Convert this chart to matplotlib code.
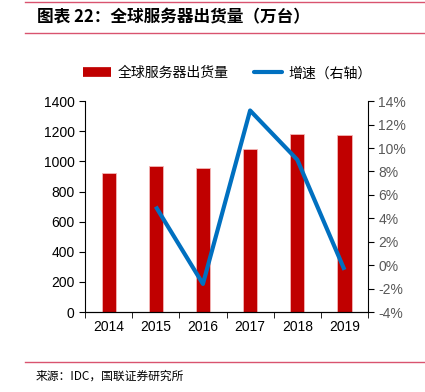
import matplotlib
matplotlib.use("Agg")
import matplotlib.pyplot as plt
from matplotlib.lines import Line2D

plt.rcParams['font.family'] = ['Liberation Sans', 'Noto Sans CJK SC', 'DejaVu Sans']

# Data
years = ["2014", "2015", "2016", "2017", "2018", "2019"]
shipments = [924, 967, 955, 1080, 1179, 1172]
growth_years = ["2015", "2016", "2017", "2018", "2019"]
growth = [5.0, -1.6, 13.2, 9.0, -0.4]

bar_color = "#C00000"
line_color = "#0070C0"

fig = plt.figure(figsize=(4.25, 3.92), dpi=100)
ax = fig.add_axes([0.2, 0.204, 0.666, 0.538])

x = list(range(len(years)))
ax.bar(x, shipments, width=0.3, color=bar_color, edgecolor="#F4B6B6", linewidth=0.6, zorder=2)
ax.set_xlim(-0.5, len(years) - 0.5)
ax.set_ylim(0, 1400)
ax.set_yticks(range(0, 1401, 200))
ax.set_xticks(x)
ax.set_xticklabels(years)
ax.set_xticks([i - 0.5 for i in range(len(years) + 1)], minor=True)
ax.tick_params(axis="x", which="major", length=0, pad=6)
ax.tick_params(axis="x", which="minor", length=4, direction="out", color="black")
ax.tick_params(axis="y", length=4, direction="out", labelsize=10)
ax.tick_params(axis="x", labelsize=10)
ax.spines["top"].set_visible(False)
ax.spines["right"].set_visible(False)

ax2 = ax.twinx()
gx = [years.index(y) for y in growth_years]
ax2.plot(gx, growth, color=line_color, linewidth=3, solid_capstyle="butt", zorder=3)
ax2.set_ylim(-4, 14)
ax2.set_yticks(range(-4, 15, 2))
ax2.set_yticklabels([f"{v}%" for v in range(-4, 15, 2)])
ax2.tick_params(axis="y", length=4, direction="out", labelsize=10, colors="black", labelcolor="#595959")
ax2.spines["top"].set_visible(False)
ax2.spines["left"].set_visible(False)

# Legend
handles = [Line2D([0], [0], color=bar_color, linewidth=7, solid_capstyle="butt"),
           Line2D([0], [0], color=line_color, linewidth=3, solid_capstyle="round")]
fig.legend(handles, ["全球服务器出货量", "增速（右轴）"], loc="center",
           bbox_to_anchor=(0.535, 0.813), ncol=2, frameon=False,
           handlelength=2.0, columnspacing=1.8, handletextpad=0.5,
           prop={"family": ["Noto Sans CJK SC"], "size": 10})

# Title and source with rules
rule = "#D9536F"
fig.add_artist(Line2D([25 / 425, 1], [1 - 2 / 392, 1 - 2 / 392], color=rule, linewidth=1))
fig.add_artist(Line2D([25 / 425, 1], [1 - 33 / 392, 1 - 33 / 392], color=rule, linewidth=1))
fig.text(37 / 425, 1 - 17 / 392, "图表 22：全球服务器出货量（万台）", fontsize=12,
         fontweight="bold", style="italic", va="center", ha="left",
         family=["Noto Sans CJK SC", "DejaVu Sans"])
fig.add_artist(Line2D([25 / 425, 1], [1 - 362 / 392, 1 - 362 / 392], color=rule, linewidth=1))
fig.text(36 / 425, 1 - 376 / 392, "来源：IDC，国联证券研究所", fontsize=8.5, va="center", ha="left",
         family=["Noto Sans CJK SC", "DejaVu Sans"])

fig.savefig("out.png", dpi=100)
